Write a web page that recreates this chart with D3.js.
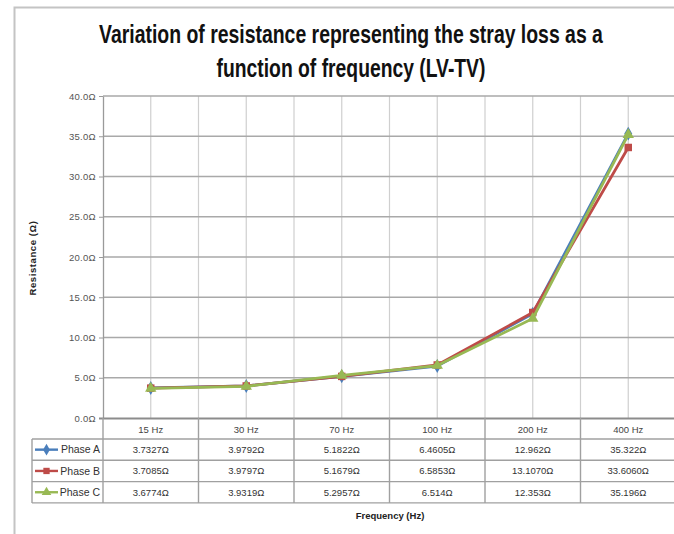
<!DOCTYPE html>
<html>
<head>
<meta charset="utf-8">
<script src="https://cdn.jsdelivr.net/npm/d3@7"></script>
<style>
  html, body { margin: 0; padding: 0; background: #fff; }
  svg { display: block; }
</style>
</head>
<body>
<svg id="chart" width="674" height="534"></svg>
<script>
// Frequencies on the category axis
const categories = ["15 Hz", "30 Hz", "70 Hz", "100 Hz", "200 Hz", "400 Hz"];

// Measured stray-loss resistance per phase (Ω), kept as printed in the data table
const phaseA = ["3.7327", "3.9792", "5.1822", "6.4605", "12.962", "35.322"];
const phaseB = ["3.7085", "3.9797", "5.1679", "6.5853", "13.1070", "33.6060"];
const phaseC = ["3.6774", "3.9319", "5.2957", "6.514", "12.353", "35.196"];

const seriesNames = ["Phase A", "Phase B", "Phase C"];
const yTicks = [0, 5, 10, 15, 20, 25, 30, 35, 40];

const titleLines = [
  "Variation of resistance representing the stray loss as a",
  "function of frequency (LV-TV)"
];

const colors = ["#4a7ebb", "#be4b48", "#98b954"];
const shapes = [d3.symbolDiamond, d3.symbolSquare, d3.symbolTriangle];
const series = [phaseA, phaseB, phaseC].map((vals, i) => ({
  name: seriesNames[i],
  labels: vals,
  values: vals.map(Number),
  color: colors[i],
  shape: shapes[i]
}));

const svg = d3.select("#chart");
const sans = "'Liberation Sans', Arial, sans-serif";

svg.append("rect").attr("width", 674).attr("height", 534).attr("fill", "#fff");

// chart-area frame (left and top edges)
svg.append("path")
  .attr("d", "M14.5,534 V7.5 H674")
  .attr("fill", "none")
  .attr("stroke", "#c4c4c4")
  .attr("stroke-width", 2);

// condensed text: draw at natural width, then squeeze horizontally to the wanted width
function fitText(sel, width) {
  sel.each(function () {
    const node = this;
    const w = node.getComputedTextLength();
    const xx = +node.getAttribute("x") || 0;
    const s = width / w;
    d3.select(node).attr("transform",
      `translate(${xx},0) scale(${s},1) translate(${-xx},0)`);
  });
}

// title
const titleWidths = [504, 269];
const titleG = svg.append("g");
titleG.selectAll("text").data(titleLines).join("text")
  .attr("x", 351)
  .attr("y", (d, i) => 43 + i * 34)
  .attr("text-anchor", "middle")
  .attr("font-family", sans)
  .attr("font-weight", "bold")
  .attr("font-size", 26)
  .attr("fill", "#111")
  .text(d => d)
  .each(function (d, i) { fitText(d3.select(this), titleWidths[i]); });

// scales
const plotLeft = 103, plotRight = 676, plotTop = 96, plotBottom = 418;
const x = d3.scaleBand().domain(categories).range([plotLeft, plotRight]).padding(0);
const y = d3.scaleLinear().domain([0, 40]).range([plotBottom, plotTop]);
const cx = c => x(c) + x.bandwidth() / 2;

// vertical gridlines at band edges and centres
const vLines = [];
categories.forEach(c => { vLines.push(x(c)); vLines.push(cx(c)); });
vLines.push(plotRight);
svg.append("g").selectAll("line").data(vLines.slice(1)).join("line")
  .attr("x1", d => d).attr("x2", d => d)
  .attr("y1", plotTop).attr("y2", plotBottom)
  .attr("stroke", "#cfcfcf").attr("stroke-width", 1.2);

// horizontal gridlines
svg.append("g").selectAll("line").data(yTicks.filter(t => t > 0)).join("line")
  .attr("x1", plotLeft).attr("x2", plotRight)
  .attr("y1", d => y(d)).attr("y2", d => y(d))
  .attr("stroke", "#a9a9a9").attr("stroke-width", 1.3);

// y axis
const yAxis = svg.append("g")
  .attr("transform", `translate(${plotLeft},0)`)
  .call(d3.axisLeft(y).tickValues(yTicks).tickSize(4).tickSizeOuter(0)
    .tickFormat(d => d.toFixed(1) + "\u03A9"));
yAxis.select(".domain").attr("stroke", "#9a9a9a").attr("stroke-width", 1.3);
yAxis.selectAll(".tick line").attr("stroke", "#9a9a9a");
yAxis.selectAll(".tick text")
  .attr("font-family", sans).attr("font-size", 9.5).attr("fill", "#555")
  .attr("x", -7).attr("letter-spacing", 0.3);

// zero baseline
svg.append("line")
  .attr("x1", plotLeft - 4).attr("x2", plotRight)
  .attr("y1", plotBottom + 0.5).attr("y2", plotBottom + 0.5)
  .attr("stroke", "#8c8c8c").attr("stroke-width", 2);

// y axis title
svg.append("text")
  .attr("transform", "translate(36,258) rotate(-90)")
  .attr("text-anchor", "middle")
  .attr("font-family", sans).attr("font-weight", "bold").attr("font-size", 9.5)
  .attr("fill", "#222")
  .attr("letter-spacing", 0.6)
  .text("Resistance (\u03A9)");

// series lines and markers
const line = d3.line().x((d, i) => cx(categories[i])).y(d => y(d));
const sg = svg.append("g").selectAll("g").data(series).join("g");
sg.append("path")
  .attr("d", d => line(d.values))
  .attr("fill", "none")
  .attr("stroke", d => d.color)
  .attr("stroke-width", 2.8)
  .attr("stroke-linejoin", "round");
sg.each(function (s) {
  d3.select(this).selectAll("path.mk").data(s.values).join("path")
    .attr("class", "mk")
    .attr("transform", (d, i) => `translate(${cx(categories[i])},${y(d)})`)
    .attr("d", d3.symbol().type(s.shape).size(s.shape === d3.symbolSquare ? 56 : 56))
    .attr("fill", s.color);
});

// data table below the plot
const rowTop = 439, rowH = 21.3;
const tableLeft = 32;
const tg = svg.append("g");
const gridStroke = "#a0a0a0";

// category header labels
tg.selectAll("text.cat").data(categories).join("text")
  .attr("class", "cat")
  .attr("x", d => cx(d)).attr("y", 432.5)
  .attr("text-anchor", "middle")
  .attr("font-family", sans).attr("font-size", 9.5).attr("fill", "#444")
  .text(d => d);

// horizontal rules of the table
const rowLines = [0, 1, 2, 3].map(k => rowTop + k * rowH);
tg.selectAll("line.row").data(rowLines).join("line")
  .attr("class", "row")
  .attr("x1", tableLeft).attr("x2", plotRight)
  .attr("y1", d => d).attr("y2", d => d)
  .attr("stroke", gridStroke).attr("stroke-width", 1.4);

// vertical rules of the table
const colLines = [plotLeft].concat(categories.map(c => x(c) + x.bandwidth()));
tg.selectAll("line.col").data(colLines).join("line")
  .attr("class", "col")
  .attr("x1", d => d).attr("x2", d => d)
  .attr("y1", plotBottom).attr("y2", rowLines[3])
  .attr("stroke", gridStroke).attr("stroke-width", 1.4);
tg.append("line")
  .attr("x1", tableLeft).attr("x2", tableLeft)
  .attr("y1", rowLines[0]).attr("y2", rowLines[3])
  .attr("stroke", gridStroke).attr("stroke-width", 1.4);

// legend keys and values for each row
series.forEach((s, r) => {
  const ym = rowTop + r * rowH + rowH / 2;
  tg.append("line")
    .attr("x1", 35).attr("x2", 58).attr("y1", ym).attr("y2", ym)
    .attr("stroke", s.color).attr("stroke-width", 2.4);
  tg.append("path")
    .attr("transform", `translate(46.5,${ym})`)
    .attr("d", d3.symbol().type(s.shape).size(40))
    .attr("fill", s.color);
  tg.append("text")
    .attr("x", 100).attr("y", ym + 3.6)
    .attr("text-anchor", "end")
    .attr("font-family", sans).attr("font-size", 10.5).attr("fill", "#333")
    .text(s.name);
  tg.selectAll(null).data(s.labels).join("text")
    .attr("x", (d, i) => cx(categories[i])).attr("y", ym + 3.5)
    .attr("text-anchor", "middle")
    .attr("font-family", sans).attr("font-size", 9.5).attr("fill", "#333")
    .text(d => d + "\u03A9");
});

// x axis title
svg.append("text")
  .attr("x", 390).attr("y", 519)
  .attr("text-anchor", "middle")
  .attr("font-family", sans).attr("font-weight", "bold").attr("font-size", 9.5)
  .attr("fill", "#222")
  .text("Frequency (Hz)");
</script>
</body>
</html>
